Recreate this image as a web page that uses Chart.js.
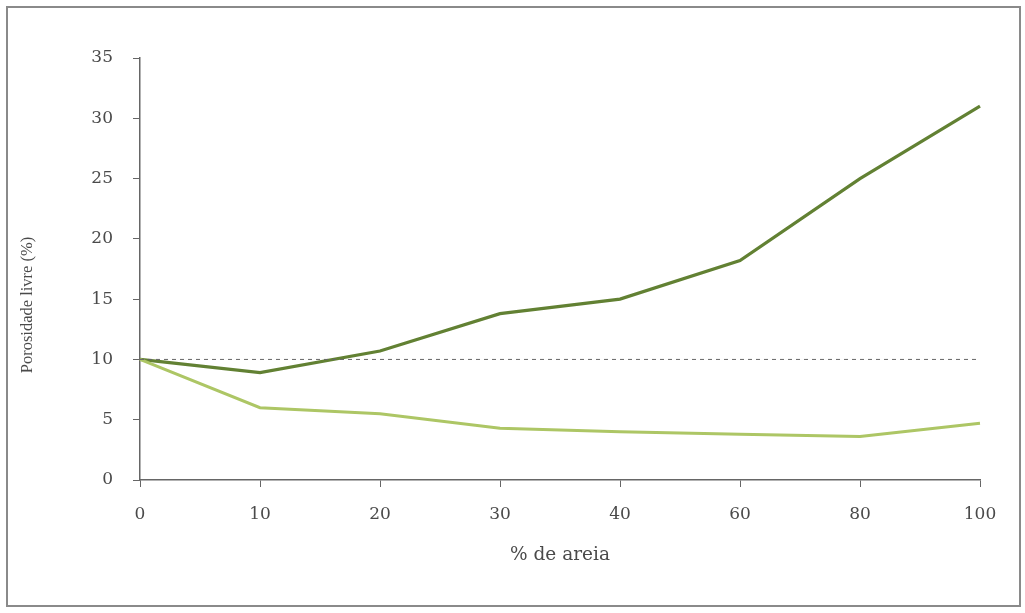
<!DOCTYPE html>
<html><head><meta charset="utf-8">
<script src="https://cdn.jsdelivr.net/npm/chart.js@4"></script>
<style>html,body{margin:0;padding:0;background:#fff}#wrap{width:1025px;height:613px;position:relative}</style>
</head><body><div id="wrap"><canvas id="c" width="1025" height="613"></canvas></div>
<script>
const categories = ['0','10','20','30','40','60','80','100'];
const seriesDark = [10, 8.9, 10.7, 13.8, 15.0, 18.2, 25.0, 31.0];
const seriesLight = [10, 6.0, 5.5, 4.3, 4.0, 3.8, 3.6, 4.7];
const referenceLine = [10, 10, 10, 10, 10, 10, 10, 10];
const yTicks = [0, 5, 10, 15, 20, 25, 30, 35];
const yTitle = 'Porosidade livre (%)';

const framePlugin = {
  id: 'frame',
  afterDraw(chart) {
    const ctx = chart.ctx;
    ctx.save();
    ctx.strokeStyle = '#8a8a8a';
    ctx.lineWidth = 2;
    ctx.strokeRect(7, 7, 1013, 599);
    // y axis title
    ctx.translate(28, 305);
    ctx.rotate(-Math.PI / 2);
    ctx.fillStyle = '#4a4a4a';
    ctx.font = '16.5px "Liberation Serif"';
    ctx.textAlign = 'center';
    ctx.textBaseline = 'middle';
    ctx.fillText(yTitle, 0, 0);
    ctx.restore();
  }
};

new Chart(document.getElementById('c'), {
  type: 'line',
  data: {
    labels: categories,
    datasets: [
      { data: referenceLine, borderColor: '#666', borderWidth: 1, borderDash: [4, 4], pointRadius: 0, tension: 0 },
      { data: seriesLight, borderColor: '#adc665', borderWidth: 3, pointRadius: 0, tension: 0 },
      { data: seriesDark, borderColor: '#628133', borderWidth: 3.2, pointRadius: 0, tension: 0 }
    ]
  },
  plugins: [framePlugin],
  options: {
    responsive: false,
    animation: false,
    layout: { padding: { top: 58, right: 45, left: 0, bottom: 0 } },
    plugins: { legend: { display: false }, tooltip: { enabled: false } },
    scales: {
      x: {
        type: 'category',
        offset: false,
        afterFit(s) { s.height = 133; },
        grid: { display: true, drawOnChartArea: false, drawTicks: true, tickLength: 7, color: '#666' },
        border: { display: true, color: '#666', width: 1.5 },
        ticks: { color: '#4a4a4a', padding: 17, font: { family: 'DejaVu Serif', size: 17 }, maxRotation: 0 },
        title: { display: true, text: '% de areia', color: '#4a4a4a', font: { family: 'DejaVu Serif', size: 18.5 }, padding: { top: 0, bottom: 47 } }
      },
      y: {
        min: 0, max: 35,
        afterFit(s) { s.width = 140; },
        afterBuildTicks(s) { s.ticks = yTicks.map(v => ({ value: v })); },
        grid: { display: true, drawOnChartArea: false, drawTicks: true, tickLength: 7, color: '#666' },
        border: { display: true, color: '#666', width: 1.5 },
        ticks: { color: '#4a4a4a', padding: 20, font: { family: 'DejaVu Serif', size: 17 } },
        title: { display: false }
      }
    }
  }
});
</script></body></html>
